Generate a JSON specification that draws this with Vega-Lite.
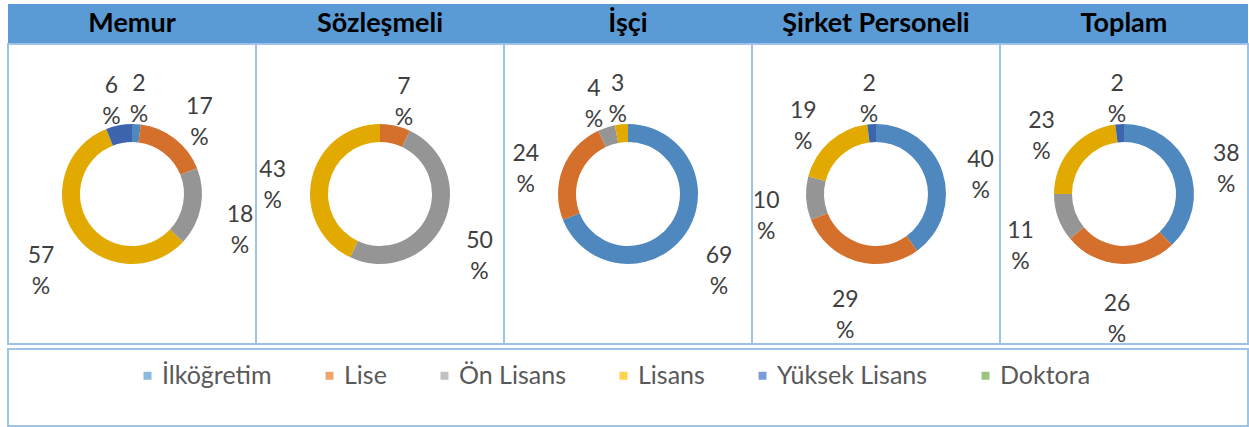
{
  "$schema": "https://vega.github.io/schema/vega-lite/v6.json",
  "padding": {"left": 7, "top": 4, "right": 0, "bottom": 0},
  "background": "white",
  "spacing": 0,
  "config": {"font": "Lato", "view": {"stroke": null}, "concat": {"spacing": 0}},
  "datasets": {
    "d": [
      {"g": "Memur", "c": "İlköğretim", "v": 2, "k": 1},
      {"g": "Memur", "c": "Lise", "v": 17, "k": 2},
      {"g": "Memur", "c": "Ön Lisans", "v": 18, "k": 3},
      {"g": "Memur", "c": "Lisans", "v": 57, "k": 4},
      {"g": "Memur", "c": "Yüksek Lisans", "v": 6, "k": 5},
      {"g": "Sözleşmeli", "c": "Lise", "v": 7, "k": 2},
      {"g": "Sözleşmeli", "c": "Ön Lisans", "v": 50, "k": 3},
      {"g": "Sözleşmeli", "c": "Lisans", "v": 43, "k": 4},
      {"g": "İşçi", "c": "İlköğretim", "v": 69, "k": 1},
      {"g": "İşçi", "c": "Lise", "v": 24, "k": 2},
      {"g": "İşçi", "c": "Ön Lisans", "v": 4, "k": 3},
      {"g": "İşçi", "c": "Lisans", "v": 3, "k": 4},
      {"g": "Şirket Personeli", "c": "İlköğretim", "v": 40, "k": 1},
      {"g": "Şirket Personeli", "c": "Lise", "v": 29, "k": 2},
      {"g": "Şirket Personeli", "c": "Ön Lisans", "v": 10, "k": 3},
      {"g": "Şirket Personeli", "c": "Lisans", "v": 19, "k": 4},
      {"g": "Şirket Personeli", "c": "Yüksek Lisans", "v": 2, "k": 5},
      {"g": "Toplam", "c": "İlköğretim", "v": 38, "k": 1},
      {"g": "Toplam", "c": "Lise", "v": 26, "k": 2},
      {"g": "Toplam", "c": "Ön Lisans", "v": 11, "k": 3},
      {"g": "Toplam", "c": "Lisans", "v": 23, "k": 4},
      {"g": "Toplam", "c": "Yüksek Lisans", "v": 2, "k": 5}
    ],
    "cats": [
      {"c": "İlköğretim"}, {"c": "Lise"}, {"c": "Ön Lisans"}, {"c": "Lisans"}, {"c": "Yüksek Lisans"}, {"c": "Doktora"}
    ]
  },
  "vconcat": [
    {
      "spacing": 0,
      "bounds": "flush",
      "hconcat": [
        {"width": 248, "height": 39, "view": {"fill": "#5B9BD5", "stroke": null}, "data": {"values": [{"t": "Memur"}]}, "mark": {"type": "text", "fontSize": 27, "fontWeight": "bold", "color": "#000000"}, "encoding": {"text": {"field": "t"}}},
        {"width": 248, "height": 39, "view": {"fill": "#5B9BD5", "stroke": null}, "data": {"values": [{"t": "Sözleşmeli"}]}, "mark": {"type": "text", "fontSize": 27, "fontWeight": "bold", "color": "#000000"}, "encoding": {"text": {"field": "t"}}},
        {"width": 248, "height": 39, "view": {"fill": "#5B9BD5", "stroke": null}, "data": {"values": [{"t": "İşçi"}]}, "mark": {"type": "text", "fontSize": 27, "fontWeight": "bold", "color": "#000000"}, "encoding": {"text": {"field": "t"}}},
        {"width": 248, "height": 39, "view": {"fill": "#5B9BD5", "stroke": null}, "data": {"values": [{"t": "Şirket Personeli"}]}, "mark": {"type": "text", "fontSize": 27, "fontWeight": "bold", "color": "#000000"}, "encoding": {"text": {"field": "t"}}},
        {"width": 248, "height": 39, "view": {"fill": "#5B9BD5", "stroke": null}, "data": {"values": [{"t": "Toplam"}]}, "mark": {"type": "text", "fontSize": 27, "fontWeight": "bold", "color": "#000000"}, "encoding": {"text": {"field": "t"}}}
      ]
    },
    {
      "spacing": 0,
      "bounds": "flush",
      "hconcat": [
        {"width": 248, "height": 300, "view": {"stroke": "#9DC3E6", "strokeWidth": 2}, "data": {"name": "d"},
         "transform": [{"filter": "datum.g === 'Memur'"}, {"calculate": "datum.v + ' %'", "as": "lab"}],
         "encoding": {"theta": {"field": "v", "type": "quantitative", "stack": true}, "order": {"field": "k", "type": "quantitative"}},
         "layer": [
           {"mark": {"type": "arc", "outerRadius": 70, "innerRadius": 52}, "encoding": {"fill": {"field": "c", "type": "nominal", "legend": null, "scale": {"domain": ["İlköğretim", "Lise", "Ön Lisans", "Lisans", "Yüksek Lisans"], "range": ["#4F88BE", "#D46F2C", "#959595", "#E2AA00", "#3D65AE"]}}}},
           {"mark": {"type": "text", "radius": 110, "lineBreak": " ", "fontSize": 23, "lineHeight": 31, "color": "#404040"}, "encoding": {"text": {"field": "lab"}}}
         ]},
        {"width": 248, "height": 300, "view": {"stroke": "#9DC3E6", "strokeWidth": 2}, "data": {"name": "d"},
         "transform": [{"filter": "datum.g === 'Sözleşmeli'"}, {"calculate": "datum.v + ' %'", "as": "lab"}],
         "encoding": {"theta": {"field": "v", "type": "quantitative", "stack": true}, "order": {"field": "k", "type": "quantitative"}},
         "layer": [
           {"mark": {"type": "arc", "outerRadius": 70, "innerRadius": 52}, "encoding": {"fill": {"field": "c", "type": "nominal", "legend": null, "scale": {"domain": ["İlköğretim", "Lise", "Ön Lisans", "Lisans", "Yüksek Lisans"], "range": ["#4F88BE", "#D46F2C", "#959595", "#E2AA00", "#3D65AE"]}}}},
           {"mark": {"type": "text", "radius": 110, "lineBreak": " ", "fontSize": 23, "lineHeight": 31, "color": "#404040"}, "encoding": {"text": {"field": "lab"}}}
         ]},
        {"width": 248, "height": 300, "view": {"stroke": "#9DC3E6", "strokeWidth": 2}, "data": {"name": "d"},
         "transform": [{"filter": "datum.g === 'İşçi'"}, {"calculate": "datum.v + ' %'", "as": "lab"}],
         "encoding": {"theta": {"field": "v", "type": "quantitative", "stack": true}, "order": {"field": "k", "type": "quantitative"}},
         "layer": [
           {"mark": {"type": "arc", "outerRadius": 70, "innerRadius": 52}, "encoding": {"fill": {"field": "c", "type": "nominal", "legend": null, "scale": {"domain": ["İlköğretim", "Lise", "Ön Lisans", "Lisans", "Yüksek Lisans"], "range": ["#4F88BE", "#D46F2C", "#959595", "#E2AA00", "#3D65AE"]}}}},
           {"mark": {"type": "text", "radius": 110, "lineBreak": " ", "fontSize": 23, "lineHeight": 31, "color": "#404040"}, "encoding": {"text": {"field": "lab"}}}
         ]},
        {"width": 248, "height": 300, "view": {"stroke": "#9DC3E6", "strokeWidth": 2}, "data": {"name": "d"},
         "transform": [{"filter": "datum.g === 'Şirket Personeli'"}, {"calculate": "datum.v + ' %'", "as": "lab"}],
         "encoding": {"theta": {"field": "v", "type": "quantitative", "stack": true}, "order": {"field": "k", "type": "quantitative"}},
         "layer": [
           {"mark": {"type": "arc", "outerRadius": 70, "innerRadius": 52}, "encoding": {"fill": {"field": "c", "type": "nominal", "legend": null, "scale": {"domain": ["İlköğretim", "Lise", "Ön Lisans", "Lisans", "Yüksek Lisans"], "range": ["#4F88BE", "#D46F2C", "#959595", "#E2AA00", "#3D65AE"]}}}},
           {"mark": {"type": "text", "radius": 110, "lineBreak": " ", "fontSize": 23, "lineHeight": 31, "color": "#404040"}, "encoding": {"text": {"field": "lab"}}}
         ]},
        {"width": 248, "height": 300, "view": {"stroke": "#9DC3E6", "strokeWidth": 2}, "data": {"name": "d"},
         "transform": [{"filter": "datum.g === 'Toplam'"}, {"calculate": "datum.v + ' %'", "as": "lab"}],
         "encoding": {"theta": {"field": "v", "type": "quantitative", "stack": true}, "order": {"field": "k", "type": "quantitative"}},
         "layer": [
           {"mark": {"type": "arc", "outerRadius": 70, "innerRadius": 52}, "encoding": {"fill": {"field": "c", "type": "nominal", "legend": null, "scale": {"domain": ["İlköğretim", "Lise", "Ön Lisans", "Lisans", "Yüksek Lisans"], "range": ["#4F88BE", "#D46F2C", "#959595", "#E2AA00", "#3D65AE"]}}}},
           {"mark": {"type": "text", "radius": 110, "lineBreak": " ", "fontSize": 23, "lineHeight": 31, "color": "#404040"}, "encoding": {"text": {"field": "lab"}}}
         ]}
      ]
    },
    {
      "width": 1240, "height": 77, "view": {"stroke": "#9DC3E6", "strokeWidth": 2},
      "data": {"name": "cats"},
      "transform": [{"filter": "datum.c === 'yok'"}],
      "mark": {"type": "point", "shape": "square", "filled": true},
      "encoding": {
        "color": {"field": "c", "type": "nominal",
          "scale": {"domain": ["İlköğretim", "Lise", "Ön Lisans", "Lisans", "Yüksek Lisans", "Doktora"], "range": ["#5B9BD5", "#ED7D31", "#A5A5A5", "#FFC000", "#4472C4", "#70AD47"]},
          "legend": {"orient": "none", "direction": "horizontal", "legendX": 127, "legendY": 359, "title": null, "symbolType": "square", "symbolSize": 64, "symbolStrokeWidth": 0, "labelFontSize": 25, "labelFont": "Lato", "labelColor": "#595959", "labelOffset": 2, "columnPadding": 45, "padding": 0, "labelLimit": 400}}
      }
    }
  ]
}
